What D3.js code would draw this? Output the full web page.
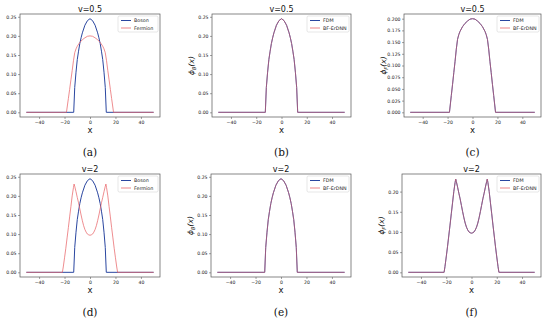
<!DOCTYPE html>
<html>
<head>
<meta charset="utf-8">
<script src="https://cdn.jsdelivr.net/npm/d3@7"></script>
<style>
  body { margin: 0; background: #fff; }
</style>
</head>
<body>
<svg id="fig" width="550" height="321" font-family="DejaVu Sans, sans-serif"></svg>
<script>
// ---- data ([x, phi] pairs) ----
var xTicks = [-40, -20, 0, 20, 40];
var yTicks025 = [0, 0.05, 0.10, 0.15, 0.20, 0.25];
var yTicks200 = [0, 0.025, 0.05, 0.075, 0.1, 0.125, 0.15, 0.175, 0.2];
var yTicks020 = [0, 0.05, 0.10, 0.15, 0.20];

// boson ground state (same for both v)
var boson = [[-50,0],[-12.8,0],[-12,0.065],[-11,0.105],[-10,0.138],[-9,0.160],[-8,0.180],
  [-7,0.195],[-6,0.208],[-4,0.228],[-2,0.240],[0,0.245],[2,0.240],[4,0.228],[6,0.208],
  [7,0.195],[8,0.180],[9,0.160],[10,0.138],[11,0.105],[12,0.065],[12.8,0],[50,0]];

// fermion, v=0.5
var fermion05 = [[-50,0],[-18.5,0],[-17,0.036],[-16,0.060],[-15,0.085],[-14,0.109],
  [-13,0.135],[-12,0.156],[-11,0.166],[-10,0.173],[-8,0.183],[-6,0.190],[-4,0.195],
  [-2,0.199],[0,0.200],[2,0.199],[4,0.195],[6,0.190],[8,0.183],[10,0.173],[11,0.166],
  [12,0.156],[13,0.135],[14,0.109],[15,0.085],[16,0.060],[17,0.036],[18.5,0],[50,0]];

// fermion, v=2
var fermion2 = [[-50,0],[-21.7,0],[-21,0.014],[-20,0.038],[-19,0.063],[-18,0.090],
  [-17,0.117],[-16,0.145],[-15,0.172],[-14,0.200],[-13,0.222],[-12.5,0.231],[-12,0.225],
  [-11,0.211],[-10,0.196],[-9,0.182],[-8,0.166],[-7,0.150],[-6,0.135],[-5,0.122],
  [-4,0.112],[-3,0.105],[-2,0.100],[-1,0.098],[0,0.097],[1,0.098],[2,0.100],[3,0.105],
  [4,0.112],[5,0.122],[6,0.135],[7,0.150],[8,0.166],[9,0.182],[10,0.196],[11,0.211],
  [12,0.225],[12.5,0.231],[13,0.222],[14,0.200],[15,0.172],[16,0.145],[17,0.117],
  [18,0.090],[19,0.063],[20,0.038],[21,0.014],[21.7,0],[50,0]];

// BF-ErDNN predictions sit on top of the FDM curves
var ernnBoson = boson;
var ernnFermion05 = fermion05;
var ernnFermion2 = fermion2;

var BLUE = "#2a46a0", RED = "#e8676b";

var panels = [
  {cap:"(a)", title:"v=0.5", l:20,  r:160, t:14,  b:117, ymax:0.2573, ticks:yTicks025, fmt:".2f",
   series:[[boson,BLUE,1],[fermion05,RED,0.75]], names:["Boson","Fermion"], ylab:null},
  {cap:"(b)", title:"v=0.5", l:212, r:351, t:14,  b:117, ymax:0.2573, ticks:yTicks025, fmt:".2f",
   series:[[boson,BLUE,1],[ernnBoson,RED,0.6]], names:["FDM","BF-ErDNN"], ylab:"B"},
  {cap:"(c)", title:"v=0.5", l:404, r:541, t:14,  b:117, ymax:0.21, ticks:yTicks200, fmt:".3f",
   series:[[fermion05,BLUE,1],[ernnFermion05,RED,0.6]], names:["FDM","BF-ErDNN"], ylab:"F"},
  {cap:"(d)", title:"v=2", l:20,  r:160, t:174, b:277, ymax:0.2573, ticks:yTicks025, fmt:".2f",
   series:[[boson,BLUE,1],[fermion2,RED,0.75]], names:["Boson","Fermion"], ylab:null},
  {cap:"(e)", title:"v=2", l:211, r:351, t:174, b:277, ymax:0.2573, ticks:yTicks025, fmt:".2f",
   series:[[boson,BLUE,1],[ernnBoson,RED,0.6]], names:["FDM","BF-ErDNN"], ylab:"B"},
  {cap:"(f)", title:"v=2", l:402, r:541, t:174, b:277, ymax:0.2436, ticks:yTicks020, fmt:".2f",
   series:[[fermion2,BLUE,1],[ernnFermion2,RED,0.6]], names:["FDM","BF-ErDNN"], ylab:"F"}
];

var svg = d3.select("#fig");

panels.forEach(function(p){
  var x = d3.scaleLinear().domain([-55, 55]).range([p.l, p.r]);
  var ymin = -0.05 * p.ymax / 1.05;
  var y = d3.scaleLinear().domain([ymin, p.ymax]).range([p.b, p.t]);
  var g = svg.append("g");

  var line = d3.line().x(function(d){ return x(d[0]); }).y(function(d){ return y(d[1]); });
  p.series.forEach(function(s){
    g.append("path").attr("d", line(s[0])).attr("fill", "none")
      .attr("stroke", s[1]).attr("stroke-width", 1).attr("stroke-opacity", s[2]);
  });

  // axes
  var xa = g.append("g").attr("transform", "translate(0," + p.b + ")")
    .call(d3.axisBottom(x).tickValues(xTicks).tickSize(2).tickPadding(1.5));
  var ya = g.append("g").attr("transform", "translate(" + p.l + ",0)")
    .call(d3.axisLeft(y).tickValues(p.ticks).tickFormat(d3.format(p.fmt)).tickSize(2).tickPadding(1.5));
  [xa, ya].forEach(function(a){
    a.select(".domain").remove();
    a.attr("font-family", null).attr("font-size", null);
    a.selectAll("text").attr("font-size", 4.6).attr("fill", "#222");
    a.selectAll("line").attr("stroke", "#444").attr("stroke-width", 0.5);
  });
  xa.selectAll("text").text(function(d){ return d < 0 ? "\u2212" + Math.abs(d) : d; });

  g.append("rect").attr("x", p.l).attr("y", p.t).attr("width", p.r - p.l).attr("height", p.b - p.t)
    .attr("fill", "none").attr("stroke", "#555").attr("stroke-width", 0.7);

  // title, x label, caption
  var cx = (p.l + p.r) / 2;
  g.append("text").attr("x", cx).attr("y", p.t - 2.4).attr("text-anchor", "middle")
    .attr("font-size", 8).attr("fill", "#111").text(p.title);
  g.append("text").attr("x", cx).attr("y", p.b + 16).attr("text-anchor", "middle")
    .attr("font-size", 8.5).attr("fill", "#111").text("x");
  g.append("text").attr("x", cx).attr("y", p.b + 38.5).attr("text-anchor", "middle")
    .attr("font-family", "DejaVu Serif, serif").attr("font-size", 10.5).attr("fill", "#111").text(p.cap);

  // y label
  if (p.ylab) {
    var lx = p.ylab === "B" ? p.l - 18 : p.l - 18;
    var ly = (p.t + p.b) / 2;
    var yl = g.append("text").attr("transform", "translate(" + lx + "," + ly + ") rotate(-90)")
      .attr("text-anchor", "middle").attr("font-size", 7.5).attr("font-style", "italic").attr("fill", "#111");
    yl.append("tspan").text("\u03d5");
    yl.append("tspan").attr("font-size", 5.2).attr("dy", 1.6).text(p.ylab);
    yl.append("tspan").attr("dy", -1.6).text("(x)");
  }

  // legend
  var lw = p.names[1] === "Fermion" ? 40 : 42;
  var lg = g.append("g").attr("transform", "translate(" + (p.r - lw - 2) + "," + (p.t + 2) + ")");
  lg.append("rect").attr("width", lw).attr("height", 16).attr("rx", 1.5)
    .attr("fill", "#fff").attr("fill-opacity", 0.8).attr("stroke", "#ccc").attr("stroke-width", 0.5);
  p.names.forEach(function(n, i){
    var yy = 4.5 + i * 7.5;
    lg.append("line").attr("x1", 3).attr("x2", 13).attr("y1", yy).attr("y2", yy)
      .attr("stroke", i === 0 ? BLUE : RED).attr("stroke-width", 1).attr("stroke-opacity", i === 0 ? 1 : 0.8);
    lg.append("text").attr("x", 16).attr("y", yy + 1.6).attr("font-size", 4.8).attr("fill", "#222").text(n);
  });
});
</script>
</body>
</html>
